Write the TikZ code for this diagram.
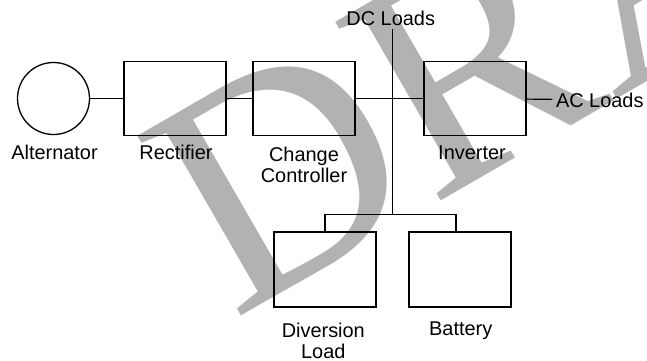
\documentclass[tikz,border=0pt]{standalone}
\usepackage{fontspec}
\setmainfont{Liberation Sans}
\newfontfamily\wmfont{Liberation Serif}
\usepackage{tikz}
\definecolor{wmgray}{gray}{0.70}
\tikzset{
  blk/.style={rectangle, draw, line width=1.8bp, minimum width=102bp, minimum height=74bp, inner sep=0pt},
  gen/.style={circle, draw, line width=1.3bp, minimum size=72bp, inner sep=0pt},
  lbl/.style={anchor=north, inner sep=0pt, align=center},
  wire/.style={line width=1.2bp},
  wm/.style={anchor=base west, rotate=30, inner sep=0pt, text=wmgray, font=\wmfont\fontsize{318}{318}\selectfont}
}

\begin{document}
\begin{tikzpicture}[x=1bp, y=1bp, every node/.style={font=\fontsize{20}{21.7}\selectfont}]
  \useasboundingbox (0,0) rectangle (647,360);
  % Watermark
  \begin{scope}
  \clip (0,0) rectangle (647,360);
  \node[wm] (wmark) at (233,39) {DRAFT};
  \end{scope}
  % Top row
  \node[gen] (alt) at (53.5,261.5) {};
  \node[blk] (rect) at (175,261.5) {};
  \node[blk] (cc) at (304,261.5) {};
  \node[blk] (inv) at (475,261.5) {};
  \node[inner sep=3.5bp, anchor=west] (acl) at (552.3,260.1) {AC Loads};
  \node[inner sep=3.4bp, anchor=base] (dcl) at (390.7,334.3) {DC Loads};
  \node[lbl] (altl) at (54.5,215.3) {Alternator};
  \node[lbl] (rectl) at (176,215.3) {Rectifier};
  \node[lbl] (ccl) at (304,213.3) {Change\\Controller};
  \node[lbl] (invl) at (472,214.3) {Inverter};
  \draw[wire] (alt) -- (rect);
  \draw[wire] (rect) -- (cc);
  \draw[wire] (cc) -- (inv);
  \draw[wire] (inv) -- (acl);
  % DC bus
  \coordinate (jn) at (392.7,145.7);
  \draw[wire] (dcl.south -| jn) -- (jn);
  % Bottom row
  \node[blk, minimum height=75bp] (div) at (325,90.5) {};
  \node[blk, minimum height=75bp] (bat) at (460,90.5) {};
  \node[lbl] (divl) at (323.3,37.6) {Diversion\\Load};
  \node[lbl] (batl) at (460.7,38.3) {Battery};
  \draw[wire] (div.north) |- (jn) -| ([xshift=-4bp]bat.north);
\end{tikzpicture}
\end{document}
